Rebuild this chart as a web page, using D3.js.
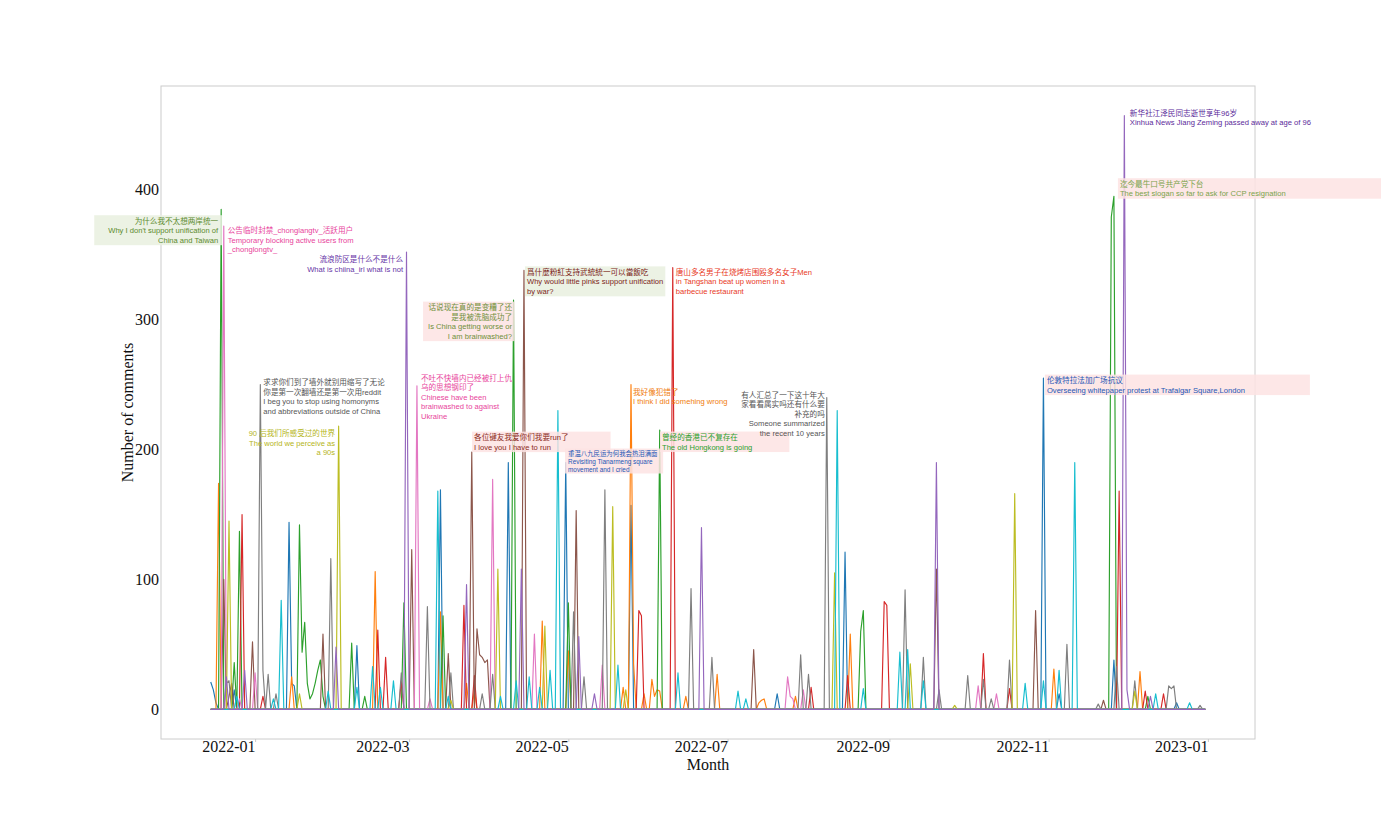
<!DOCTYPE html>
<html><head><meta charset="utf-8">
<script src="https://cdn.jsdelivr.net/npm/d3@7"></script>
<style>body{margin:0;background:#fff;overflow:hidden}</style></head>
<body><svg id="c" width="1381" height="817"></svg>
<script>
// ---------------- DATA ----------------
const seriesNames = ["blue","orange","green","red","brown","pink","gray","olive","cyan","purple"];

const blueSeries = [["2021-12-15",21],["2021-12-16",15],["2021-12-17",5],["2021-12-18",0],
["2021-12-23",0],["2021-12-24",15],["2021-12-25",0],
["2022-01-13",0],["2022-01-14",144],["2022-01-15",20],["2022-01-16",18],["2022-01-17",0],
["2022-02-08",0],["2022-02-09",49],["2022-02-10",0],
["2022-03-12",0],["2022-03-13",169],["2022-03-14",0],
["2022-04-07",0],["2022-04-08",190],["2022-04-09",0],
["2022-04-29",0],["2022-04-30",190],["2022-05-01",0],
["2022-05-24",0],["2022-05-25",157],["2022-05-26",0],
["2022-07-19",0],["2022-07-20",12],["2022-07-21",0],
["2022-08-14",0],["2022-08-15",121],["2022-08-16",0],
["2022-10-29",0],["2022-10-30",255],["2022-10-31",0],
["2022-11-04",0],["2022-11-05",12],["2022-11-06",0],
["2022-11-25",0],["2022-11-26",38],["2022-11-27",0],
["2022-12-19",0],["2022-12-20",5],["2022-12-21",0],
["2022-12-31",0]];

const orangeSeries = [["2021-12-15",0],
["2021-12-17",0],["2021-12-18",174],["2021-12-19",0],
["2022-01-14",0],["2022-01-15",25],["2022-01-16",0],
["2022-02-15",0],["2022-02-16",106],["2022-02-17",0],
["2022-03-12",0],["2022-03-13",75],["2022-03-14",0],
["2022-03-22",0],["2022-03-23",20],["2022-03-24",0],
["2022-03-25",0],["2022-03-26",15],["2022-03-27",0],
["2022-04-20",0],["2022-04-21",68],["2022-04-22",0],
["2022-04-30",0],["2022-05-01",45],["2022-05-02",0],
["2022-05-21",0],["2022-05-22",17],["2022-05-23",0],
["2022-05-24",0],["2022-05-25",250],["2022-05-26",35],["2022-05-27",0],
["2022-05-29",0],["2022-05-30",12],["2022-05-31",0],
["2022-06-01",0],["2022-06-02",23],["2022-06-03",10],["2022-06-04",15],["2022-06-05",14],["2022-06-06",0],
["2022-06-14",0],["2022-06-15",10],["2022-06-16",0],
["2022-06-26",0],["2022-06-27",27],["2022-06-28",0],
["2022-07-12",0],["2022-07-13",5],["2022-07-14",7],["2022-07-15",8],["2022-07-16",0],
["2022-07-26",0],["2022-07-27",10],["2022-07-28",0],
["2022-08-16",0],["2022-08-17",58],["2022-08-18",0],
["2022-11-02",0],["2022-11-03",31],["2022-11-04",0],
["2022-12-05",0],["2022-12-06",29],["2022-12-07",0],
["2022-12-31",0]];

const greenSeries = [["2021-12-15",0],
["2021-12-18",0],["2021-12-19",385],["2021-12-20",0],
["2021-12-23",0],["2021-12-24",36],["2021-12-25",0],["2021-12-26",137],["2021-12-27",0],
["2022-01-17",0],["2022-01-18",142],["2022-01-19",44],["2022-01-20",67],["2022-01-21",20],["2022-01-22",8],["2022-01-23",12],["2022-01-24",20],["2022-01-25",30],["2022-01-26",38],["2022-01-27",10],["2022-01-28",0],
["2022-02-06",0],["2022-02-07",51],["2022-02-08",0],
["2022-02-11",0],["2022-02-12",10],["2022-02-13",0],
["2022-02-26",0],["2022-02-27",82],["2022-02-28",0],
["2022-03-13",0],["2022-03-14",72],["2022-03-15",0],
["2022-04-09",0],["2022-04-10",315],["2022-04-11",0],
["2022-04-30",0],["2022-05-01",82],["2022-05-02",0],
["2022-06-04",0],["2022-06-05",215],["2022-06-06",0],
["2022-08-20",0],["2022-08-21",60],["2022-08-22",76],["2022-08-23",0],
["2022-11-24",0],["2022-11-25",379],["2022-11-26",395],["2022-11-27",0],
["2022-12-08",0],["2022-12-09",10],["2022-12-10",0],
["2022-12-31",0]];

const redSeries = [["2021-12-15",0],
["2021-12-26",0],["2021-12-27",150],["2021-12-28",0],
["2022-01-03",0],["2022-01-04",10],["2022-01-05",0],
["2022-02-16",0],["2022-02-17",61],["2022-02-18",0],
["2022-02-19",0],["2022-02-20",40],["2022-02-21",0],
["2022-02-25",0],["2022-02-26",22],["2022-02-27",0],
["2022-03-21",0],["2022-03-22",80],["2022-03-23",0],
["2022-03-25",0],["2022-03-26",26],["2022-03-27",0],
["2022-05-27",0],["2022-05-28",76],["2022-05-29",72],["2022-05-30",0],
["2022-06-09",0],["2022-06-10",340],["2022-06-11",0],
["2022-08-01",0],["2022-08-02",17],["2022-08-03",0],
["2022-08-15",0],["2022-08-16",26],["2022-08-17",0],
["2022-08-29",0],["2022-08-30",83],["2022-08-31",80],["2022-09-01",0],
["2022-10-06",0],["2022-10-07",43],["2022-10-08",0],
["2022-10-16",0],["2022-10-17",16],["2022-10-18",0],
["2022-11-27",0],["2022-11-28",168],["2022-11-29",0],
["2022-12-07",0],["2022-12-08",14],["2022-12-09",0],
["2022-12-14",0],["2022-12-15",12],["2022-12-16",0],
["2022-12-31",0]];

const brownSeries = [["2021-12-15",0],
["2021-12-19",0],["2021-12-20",100],["2021-12-21",0],
["2021-12-23",20],["2021-12-24",0],
["2021-12-30",0],["2021-12-31",52],["2022-01-01",0],
["2022-01-26",0],["2022-01-27",58],["2022-01-28",0],
["2022-03-01",0],["2022-03-02",123],["2022-03-03",0],
["2022-03-15",0],["2022-03-16",43],["2022-03-17",0],
["2022-03-24",0],["2022-03-25",198],["2022-03-26",0],["2022-03-27",62],["2022-03-28",42],["2022-03-29",40],["2022-03-30",36],["2022-03-31",38],["2022-04-01",0],
["2022-04-13",0],["2022-04-14",338],["2022-04-15",0],
["2022-05-03",0],["2022-05-04",153],["2022-05-05",0],
["2022-07-10",0],["2022-07-11",46],["2022-07-12",0],
["2022-09-18",0],["2022-09-19",108],["2022-09-20",0],
["2022-10-26",0],["2022-10-27",76],["2022-10-28",0],
["2022-11-21",0],["2022-11-22",7],["2022-11-23",0],
["2022-12-31",0]];

const pinkSeries = [["2021-12-15",0],
["2021-12-19",0],["2021-12-20",372],["2021-12-21",0],
["2021-12-25",0],["2021-12-26",8],["2021-12-27",0],
["2021-12-31",0],["2022-01-01",28],["2022-01-02",0],
["2022-03-03",0],["2022-03-04",249],["2022-03-05",0],
["2022-03-08",0],["2022-03-09",8],["2022-03-10",0],
["2022-04-01",0],["2022-04-02",177],["2022-04-03",0],
["2022-04-17",0],["2022-04-18",58],["2022-04-19",0],
["2022-05-13",0],["2022-05-14",34],["2022-05-15",0],
["2022-07-23",0],["2022-07-24",25],["2022-07-25",10],["2022-07-26",8],["2022-07-27",0],
["2022-07-29",0],["2022-07-30",15],["2022-07-31",0],
["2022-10-04",0],["2022-10-05",18],["2022-10-06",0],
["2022-10-11",0],["2022-10-12",12],["2022-10-13",0],
["2022-12-31",0]];

const graySeries = [["2021-12-15",0],
["2021-12-20",0],["2021-12-21",20],["2021-12-22",22],["2021-12-23",0],
["2022-01-02",0],["2022-01-03",250],["2022-01-04",30],["2022-01-05",0],["2022-01-06",27],["2022-01-07",0],
["2022-01-08",0],["2022-01-09",12],["2022-01-10",0],
["2022-01-29",0],["2022-01-30",116],["2022-01-31",0],
["2022-02-25",0],["2022-02-26",28],["2022-02-27",0],
["2022-03-07",0],["2022-03-08",79],["2022-03-09",0],
["2022-03-16",0],["2022-03-17",28],["2022-03-18",0],
["2022-03-28",0],["2022-03-29",12],["2022-03-30",0],
["2022-04-01",0],["2022-04-02",27],["2022-04-03",0],
["2022-05-02",0],["2022-05-03",75],["2022-05-04",0],
["2022-05-06",0],["2022-05-07",25],["2022-05-08",0],
["2022-05-14",0],["2022-05-15",169],["2022-05-16",0],
["2022-06-16",0],["2022-06-17",93],["2022-06-18",0],
["2022-06-24",0],["2022-06-25",40],["2022-06-26",0],
["2022-07-28",0],["2022-07-29",42],["2022-07-30",0],
["2022-07-31",0],["2022-08-01",27],["2022-08-02",0],
["2022-08-07",0],["2022-08-08",240],["2022-08-09",0],
["2022-09-06",0],["2022-09-07",92],["2022-09-08",0],
["2022-09-13",0],["2022-09-14",40],["2022-09-15",0],
["2022-09-19",0],["2022-09-20",15],["2022-09-21",0],
["2022-09-30",0],["2022-10-01",26],["2022-10-02",0],
["2022-10-06",0],["2022-10-07",23],["2022-10-08",0],
["2022-10-09",0],["2022-10-10",8],["2022-10-11",0],
["2022-10-16",0],["2022-10-17",38],["2022-10-18",0],
["2022-11-07",0],["2022-11-08",50],["2022-11-09",0],
["2022-11-19",0],["2022-11-20",4],["2022-11-21",0],
["2022-11-26",0],["2022-11-27",33],["2022-11-28",0],
["2022-12-03",0],["2022-12-04",22],["2022-12-05",0],
["2022-12-16",0],["2022-12-17",18],["2022-12-18",16],["2022-12-19",18],["2022-12-20",0],
["2022-12-28",0],["2022-12-29",3],["2022-12-30",0],
["2022-12-31",0]];

const oliveSeries = [["2021-12-15",0],
["2021-12-21",0],["2021-12-22",145],["2021-12-23",0],
["2022-01-17",0],["2022-01-18",12],["2022-01-19",0],
["2022-02-01",0],["2022-02-02",218],["2022-02-03",0],
["2022-03-16",0],["2022-03-17",7],["2022-03-18",0],
["2022-04-03",0],["2022-04-04",108],["2022-04-05",0],
["2022-04-21",0],["2022-04-22",64],["2022-04-23",0],
["2022-05-17",0],["2022-05-18",156],["2022-05-19",0],
["2022-05-22",0],["2022-05-23",15],["2022-05-24",0],
["2022-08-10",0],["2022-08-11",105],["2022-08-12",0],
["2022-09-08",0],["2022-09-09",35],["2022-09-10",0],
["2022-09-25",0],["2022-09-26",3],["2022-09-27",0],
["2022-10-18",0],["2022-10-19",166],["2022-10-20",0],
["2022-12-03",0],["2022-12-04",14],["2022-12-05",0],
["2022-12-31",0]];

const cyanSeries = [["2021-12-15",0],
["2021-12-24",0],["2021-12-25",10],["2021-12-26",0],
["2022-01-07",0],["2022-01-08",8],["2022-01-09",0],
["2022-01-10",0],["2022-01-11",84],["2022-01-12",0],
["2022-01-28",0],["2022-01-29",14],["2022-01-30",0],
["2022-02-08",0],["2022-02-09",17],["2022-02-10",0],
["2022-02-14",0],["2022-02-15",33],["2022-02-16",0],
["2022-02-17",0],["2022-02-18",17],["2022-02-19",0],
["2022-02-22",0],["2022-02-23",22],["2022-02-24",0],
["2022-03-11",0],["2022-03-12",168],["2022-03-13",0],
["2022-03-15",0],["2022-03-16",10],["2022-03-17",0],
["2022-04-04",0],["2022-04-05",10],["2022-04-06",0],
["2022-04-10",0],["2022-04-11",22],["2022-04-12",0],
["2022-04-15",0],["2022-04-16",25],["2022-04-17",0],
["2022-04-19",0],["2022-04-20",17],["2022-04-21",0],
["2022-04-23",0],["2022-04-24",30],["2022-04-25",0],
["2022-04-26",0],["2022-04-27",230],["2022-04-28",0],
["2022-05-19",0],["2022-05-20",34],["2022-05-21",0],
["2022-06-11",0],["2022-06-12",28],["2022-06-13",0],
["2022-07-04",0],["2022-07-05",14],["2022-07-06",0],
["2022-07-07",0],["2022-07-08",8],["2022-07-09",0],
["2022-08-11",0],["2022-08-12",230],["2022-08-13",0],
["2022-08-21",0],["2022-08-22",16],["2022-08-23",0],
["2022-09-04",0],["2022-09-05",44],["2022-09-06",0],
["2022-09-07",0],["2022-09-08",46],["2022-09-09",0],
["2022-09-13",0],["2022-09-14",22],["2022-09-15",0],
["2022-10-22",0],["2022-10-23",20],["2022-10-24",0],
["2022-10-29",0],["2022-10-30",22],["2022-10-31",0],
["2022-11-04",0],["2022-11-05",30],["2022-11-06",0],
["2022-11-10",0],["2022-11-11",190],["2022-11-12",0],
["2022-12-11",0],["2022-12-12",12],["2022-12-13",0],
["2022-12-24",0],["2022-12-25",5],["2022-12-26",0],
["2022-12-31",0]];

const purpleSeries = [["2021-12-15",0],
["2021-12-20",0],["2021-12-21",25],["2021-12-22",0],
["2021-12-27",0],["2021-12-28",30],["2021-12-29",0],
["2022-01-31",0],["2022-02-01",48],["2022-02-02",0],
["2022-02-27",0],["2022-02-28",352],["2022-03-01",0],
["2022-03-22",0],["2022-03-23",96],["2022-03-24",0],
["2022-04-12",0],["2022-04-13",108],["2022-04-14",0],
["2022-05-04",0],["2022-05-05",56],["2022-05-06",0],
["2022-05-10",0],["2022-05-11",12],["2022-05-12",0],
["2022-06-20",0],["2022-06-21",140],["2022-06-22",0],
["2022-09-18",0],["2022-09-19",190],["2022-09-20",0],
["2022-11-29",0],["2022-11-30",457],["2022-12-01",15],["2022-12-02",0],
["2022-12-09",0],["2022-12-10",10],["2022-12-11",0],
["2022-12-31",0]];

const xTickLabels = ["2022-01","2022-03","2022-05","2022-07","2022-09","2022-11","2023-01"];
const yTickValues = [0,100,200,300,400];
const xAxisTitle = "Month";
const yAxisTitle = "Number of comments";

// annotations: which series / which day's peak / text lines
const annotationSeries = ["green","pink","purple","gray","olive","pink","green","brown","red","brown","blue","orange","green","gray","blue","green","purple"];
const annotationDates = ["2021-12-19","2021-12-20","2022-02-28","2022-01-03","2022-02-02","2022-03-04","2022-04-10","2022-04-14","2022-06-10","2022-03-25","2022-04-30","2022-05-25","2022-06-05","2022-08-08","2022-10-30","2022-11-26","2022-11-30"];
const annotationLines = [
 ["为什么我不太想两岸统一","Why I  don't support unification of","China and Taiwan"],
 ["公告临时封禁_chonglangtv_活跃用户","Temporary blocking active users from","_chonglongtv_"],
 ["流浪防区是什么不是什么","What is chiina_irl what is not"],
 ["求求你们到了墙外就别用缩写了无论","你是第一次翻墙还是第一次用reddit","I beg you to stop using homonyms","and abbreviations outside of China"],
 ["90 后我们所感受过的世界","The world we perceive as","a 90s"],
 ["不吐不快墙内已经被打上仇","乌的思想钢印了","Chinese have been","brainwashed to against","Ukraine"],
 ["话说现在真的是变糟了还","是我被洗脑成功了","Is China getting worse or","I am brainwashed?"],
 ["爲什麼粉紅支持武統統一可以當飯吃","Why would little pinks support unification","by war?"],
 ["唐山多名男子在烧烤店围殴多名女子Men","in Tangshan beat up women in a","barbecue restaurant"],
 ["各位键友我爱你们我要run了","I love you I have to run"],
 ["重温八九民运为何我会热泪满面","Revisiting Tianarmeng square","movement and I cried"],
 ["我好像犯错了","I think I did somehing wrong"],
 ["曾经的香港已不复存在","The old Hongkong is going"],
 ["有人汇总了一下这十年大","家看看属实吗还有什么要","补充的吗","Someone summarized","the recent 10 years"],
 ["伦敦特拉法加广场抗议","Overseeing whitepaper protest at Trafalgar Square,London"],
 ["迄今最牛口号共产党下台","The best slogan so far to ask for CCP resignation"],
 ["新华社江泽民同志逝世享年96岁","Xinhua News Jiang Zeming passed away at age of 96"]
];

// ---------------- STYLE / LAYOUT ----------------
const seriesData = {blue:blueSeries, orange:orangeSeries, green:greenSeries, red:redSeries, brown:brownSeries,
  pink:pinkSeries, gray:graySeries, olive:oliveSeries, cyan:cyanSeries, purple:purpleSeries};
const seriesColor = {blue:"#1f77b4", orange:"#ff7f0e", green:"#2ca02c", red:"#d62728", purple:"#9467bd",
  brown:"#8c564b", pink:"#e377c2", gray:"#7f7f7f", olive:"#bcbd22", cyan:"#17becf"};
const GREEN_BG = "#e9f0df", PINK_BG = "#fde3e3";
const annotationStyle = [
 {dx:-3, dy:14.5, anchor:"end", color:"#5b8a2e", bg:GREEN_BG, pl:14, pr:3},
 {dx:4, dy:7, anchor:"start", color:"#e8449c"},
 {dx:-3.5, dy:10, anchor:"end", color:"#6634a6"},
 {dx:3, dy:0.5, anchor:"start", color:"#555555"},
 {dx:-3.5, dy:10, anchor:"end", color:"#b5b520"},
 {dx:4, dy:-5, anchor:"start", color:"#e8449c"},
 {dx:-1.5, dy:10, anchor:"end", color:"#6f8f3a", bg:PINK_BG, pl:5, pr:2},
 {dx:3, dy:4.6, anchor:"start", color:"#7b2418", bg:GREEN_BG, pl:2, pr:2},
 {dx:3, dy:7, anchor:"start", color:"#e8391d"},
 {dx:2.3, dy:-12, anchor:"start", color:"#8b2a1a", bg:PINK_BG, pl:2, pr:42},
 {dx:2.3, dy:-6.5, anchor:"start", color:"#2456b5", bg:PINK_BG, pl:3, pr:5, fs:6.4, lh:8},
 {dx:2, dy:10, anchor:"start", color:"#f07d0e"},
 {dx:2.3, dy:10, anchor:"start", color:"#2ca02c", bg:PINK_BG, pl:2, pr:37},
 {dx:-2, dy:0, anchor:"end", color:"#555555"},
 {dx:3.5, dy:5, anchor:"start", color:"#2456b5", bg:PINK_BG, pl:2, pr:65},
 {dx:6, dy:-9.5, anchor:"start", color:"#7aa34a", bg:PINK_BG, pl:2, pr:100},
 {dx:5.5, dy:0, anchor:"start", color:"#5b2a9a"}
];
const drawOrder = ["blue","orange","green","red","brown","pink","gray","olive","cyan","purple"];

// ---------------- CHART ----------------
const plot = {left:161, right:1255, top:86, bottom:739};
const parse = d3.timeParse("%Y-%m-%d");
const svg = d3.select("#c");

const allPts = seriesNames.flatMap(n => seriesData[n]);
const tExt = d3.extent(allPts, d => parse(d[0]));
const tPad = (tExt[1] - tExt[0]) * 0.05;
const x = d3.scaleTime().domain([new Date(+tExt[0] - tPad), new Date(+tExt[1] + tPad)]).range([plot.left, plot.right]);
const vExt = d3.extent(allPts, d => d[1]);
const vPad = (vExt[1] - vExt[0]) * 0.05;
const y = d3.scaleLinear().domain([vExt[0] - vPad, vExt[1] + vPad]).range([plot.bottom, plot.top]);

const serif = "'Liberation Serif','Times New Roman',serif";
const sans = "'Liberation Sans','Noto Sans CJK SC',Arial,sans-serif";

// lines
const line = d3.line().x(d => x(parse(d[0]))).y(d => y(d[1]));
const gLines = svg.append("g");
drawOrder.forEach(n => {
  gLines.append("path").datum(seriesData[n])
    .attr("d", line).attr("fill","none").attr("stroke", seriesColor[n])
    .attr("stroke-width", 1.15).attr("stroke-linejoin","round");
});

// frame
svg.append("rect").attr("x",plot.left).attr("y",plot.top)
  .attr("width",plot.right-plot.left).attr("height",plot.bottom-plot.top)
  .attr("fill","none").attr("stroke","#cccccc").attr("stroke-width",1);

// x axis
const xAxis = d3.axisBottom(x)
  .tickValues(xTickLabels.map(s => parse(s + "-01")))
  .tickFormat(d3.timeFormat("%Y-%m")).tickSize(3).tickPadding(-1.5);
const gx = svg.append("g").attr("transform", `translate(0,${plot.bottom})`).call(xAxis);
gx.select(".domain").remove();
gx.selectAll(".tick line").attr("stroke","#cccccc");
gx.selectAll(".tick text").attr("text-anchor","end").attr("fill","#111")
  .style("font-family", serif).style("font-size","16px");

// y axis
const yAxis = d3.axisLeft(y).tickValues(yTickValues).tickSize(0).tickPadding(2);
const gy = svg.append("g").attr("transform", `translate(${plot.left},0)`).call(yAxis);
gy.select(".domain").remove();
gy.selectAll(".tick text").attr("fill","#111").style("font-family", serif).style("font-size","16px");

// titles
svg.append("text").attr("x",(plot.left+plot.right)/2).attr("y",770).attr("text-anchor","middle")
  .style("font-family",serif).style("font-size","16px").attr("fill","#111").text(xAxisTitle);
svg.append("text").attr("transform",`translate(133,${(plot.top+plot.bottom)/2}) rotate(-90)`)
  .attr("text-anchor","middle").style("font-family",serif).style("font-size","16px").attr("fill","#111").text(yAxisTitle);

// annotations
const gAnn = svg.append("g");
annotationSeries.forEach((sName, i) => {
  const date = annotationDates[i];
  const pt = seriesData[sName].find(d => d[0] === date);
  const px = x(parse(date)), py = y(pt[1]);
  const st = annotationStyle[i];
  const fs = st.fs || 7.6, lh = st.lh || 9.5;
  const g = gAnn.append("g");
  const rect = g.append("rect");
  const t = g.append("text").attr("x", px + st.dx).attr("y", py + st.dy)
    .attr("text-anchor", st.anchor).attr("fill", st.color)
    .style("font-family", sans).style("font-size", fs + "px");
  annotationLines[i].forEach((ln, j) => {
    t.append("tspan").attr("x", px + st.dx).attr("dy", j ? lh : 0).text(ln);
  });
  if (st.bg) {
    const b = t.node().getBBox();
    rect.attr("x", b.x - st.pl).attr("y", b.y - 0.5)
      .attr("width", b.width + st.pl + st.pr).attr("height", b.height + 1)
      .attr("fill", st.bg).attr("opacity", 0.85);
  } else rect.remove();
});
</script>
</body></html>
